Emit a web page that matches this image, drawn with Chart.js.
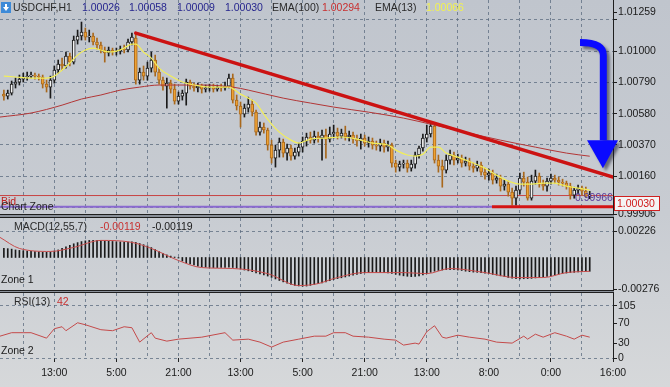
<!DOCTYPE html>
<html>
<head>
<meta charset="utf-8">
<script src="https://cdn.jsdelivr.net/npm/chart.js@4.4.1/dist/chart.umd.min.js"></script>
<style>
  html, body { margin: 0; padding: 0; background: #d0d3d7; }
  #wrap { position: relative; width: 670px; height: 387px; overflow: hidden;
          background: linear-gradient(to bottom, #c0c5cd 0%, #c8ccd2 55%, #d6d8da 100%); }
  #wrap canvas { position: absolute; left: 0; }
  .sep { position: absolute; left: 0; width: 614px; box-sizing: border-box;
         border-top: 1px solid #1e1e1e; border-bottom: 1px solid #1e1e1e; background: #8a9099; }
</style>
</head>
<body>
<div id="wrap">
  <canvas id="mainChart" width="670" height="217" style="top:0"></canvas>
  <canvas id="macdChart" width="670" height="75" style="top:218px"></canvas>
  <canvas id="rsiChart" width="670" height="94" style="top:293px"></canvas>
  <div class="sep" style="top:214px;height:4px"></div>
  <div class="sep" style="top:290px;height:3px"></div>
</div>
<script>
const FONT = '"Liberation Sans", Arial, sans-serif';
const GRID = 'rgba(90,106,126,0.75)';

// USDCHF H1 candles, bar index starts at firstBar
const firstBar = 3;
const opens = [
  1.00711, 1.00698, 1.00718, 1.00778, 1.00792, 1.00812, 1.00826, 1.00832, 1.00839, 1.00832,
  1.00826, 1.00778, 1.00758, 1.00805, 1.00873, 1.00913, 1.00900, 1.00967, 1.00926, 1.01074,
  1.01101, 1.01128, 1.01094, 1.01101, 1.01061, 1.01041, 1.01007, 1.00987, 1.01007, 1.00994,
  1.01000, 1.01014, 1.01007, 1.01061, 1.01088, 1.00805, 1.00859, 1.00832, 1.00886, 1.00940,
  1.00859, 1.00805, 1.00765, 1.00785, 1.00745, 1.00664, 1.00698, 1.00718, 1.00792, 1.00765,
  1.00752, 1.00765, 1.00745, 1.00752, 1.00758, 1.00745, 1.00758, 1.00752, 1.00765, 1.00819,
  1.00671, 1.00631, 1.00577, 1.00617, 1.00644, 1.00590, 1.00456, 1.00490, 1.00470, 1.00369,
  1.00281, 1.00335, 1.00389, 1.00315, 1.00349, 1.00295, 1.00322, 1.00355, 1.00396, 1.00423,
  1.00402, 1.00429, 1.00416, 1.00436, 1.00409, 1.00443, 1.00456, 1.00429, 1.00449, 1.00423,
  1.00436, 1.00409, 1.00396, 1.00416, 1.00382, 1.00396, 1.00369, 1.00362, 1.00382, 1.00355,
  1.00369, 1.00248, 1.00221, 1.00241, 1.00248, 1.00214, 1.00241, 1.00302, 1.00349, 1.00416,
  1.00443, 1.00496, 1.00268, 1.00228, 1.00201, 1.00268, 1.00302, 1.00268, 1.00281, 1.00248,
  1.00261, 1.00228, 1.00214, 1.00235, 1.00187, 1.00167, 1.00181, 1.00134, 1.00147, 1.00093,
  1.00107, 1.00053, 1.00012, 1.00066, 1.00147, 1.00120, 1.00012, 1.00127, 1.00160, 1.00107,
  1.00093, 1.00127, 1.00147, 1.00134, 1.00120, 1.00113, 1.00093, 1.00033, 1.00066, 1.00080,
  1.00060, 1.00026
];
const highs = [
  1.00738, 1.00738, 1.00799, 1.00819, 1.00839, 1.00852, 1.00859, 1.00859, 1.00852, 1.00846,
  1.00839, 1.00805, 1.00832, 1.00900, 1.00940, 1.00953, 1.00994, 1.00987, 1.01101, 1.01141,
  1.01195, 1.01155, 1.01141, 1.01121, 1.01088, 1.01061, 1.01027, 1.01027, 1.01020, 1.01020,
  1.01034, 1.01041, 1.01081, 1.01121, 1.01115, 1.00886, 1.00900, 1.00926, 1.00994, 1.00973,
  1.00886, 1.00826, 1.00819, 1.00805, 1.00778, 1.00725, 1.00738, 1.00812, 1.00805, 1.00785,
  1.00785, 1.00778, 1.00772, 1.00778, 1.00778, 1.00772, 1.00778, 1.00792, 1.00846, 1.00846,
  1.00705, 1.00658, 1.00644, 1.00691, 1.00671, 1.00604, 1.00523, 1.00517, 1.00483, 1.00402,
  1.00369, 1.00416, 1.00409, 1.00375, 1.00369, 1.00349, 1.00382, 1.00423, 1.00449, 1.00456,
  1.00463, 1.00456, 1.00470, 1.00476, 1.00490, 1.00503, 1.00483, 1.00476, 1.00496, 1.00463,
  1.00456, 1.00436, 1.00443, 1.00436, 1.00423, 1.00416, 1.00396, 1.00409, 1.00402, 1.00396,
  1.00382, 1.00268, 1.00261, 1.00268, 1.00268, 1.00268, 1.00322, 1.00362, 1.00443, 1.00503,
  1.00523, 1.00517, 1.00302, 1.00268, 1.00302, 1.00335, 1.00322, 1.00308, 1.00302, 1.00288,
  1.00281, 1.00248, 1.00261, 1.00254, 1.00214, 1.00208, 1.00201, 1.00174, 1.00167, 1.00134,
  1.00127, 1.00080, 1.00093, 1.00181, 1.00187, 1.00154, 1.00167, 1.00201, 1.00181, 1.00134,
  1.00147, 1.00174, 1.00167, 1.00154, 1.00140, 1.00127, 1.00113, 1.00086, 1.00100, 1.00093,
  1.00086, 1.00058
];
const lows = [
  1.00671, 1.00678, 1.00705, 1.00752, 1.00772, 1.00792, 1.00805, 1.00819, 1.00812, 1.00805,
  1.00752, 1.00725, 1.00684, 1.00785, 1.00852, 1.00873, 1.00886, 1.00900, 1.00913, 1.01047,
  1.01074, 1.01074, 1.01061, 1.01041, 1.01014, 1.00987, 1.00926, 1.00967, 1.00973, 1.00973,
  1.00980, 1.00987, 1.00994, 1.01041, 1.00778, 1.00778, 1.00805, 1.00805, 1.00859, 1.00832,
  1.00778, 1.00738, 1.00617, 1.00718, 1.00644, 1.00644, 1.00671, 1.00637, 1.00745, 1.00731,
  1.00725, 1.00718, 1.00725, 1.00731, 1.00725, 1.00731, 1.00731, 1.00738, 1.00752, 1.00651,
  1.00604, 1.00490, 1.00557, 1.00590, 1.00564, 1.00436, 1.00436, 1.00449, 1.00335, 1.00248,
  1.00221, 1.00288, 1.00288, 1.00268, 1.00268, 1.00275, 1.00295, 1.00322, 1.00362, 1.00382,
  1.00382, 1.00389, 1.00268, 1.00281, 1.00389, 1.00416, 1.00409, 1.00416, 1.00402, 1.00396,
  1.00382, 1.00362, 1.00342, 1.00362, 1.00355, 1.00342, 1.00335, 1.00328, 1.00322, 1.00328,
  1.00221, 1.00187, 1.00194, 1.00214, 1.00187, 1.00194, 1.00214, 1.00281, 1.00328, 1.00389,
  1.00423, 1.00248, 1.00187, 1.00086, 1.00181, 1.00241, 1.00235, 1.00248, 1.00221, 1.00228,
  1.00201, 1.00187, 1.00194, 1.00167, 1.00140, 1.00134, 1.00107, 1.00113, 1.00060, 1.00066,
  1.00026, 0.99965, 0.99965, 1.00039, 1.00093, 0.99999, 0.99999, 1.00107, 1.00086, 1.00066,
  1.00060, 1.00107, 1.00113, 1.00100, 1.00093, 1.00073, 1.00006, 1.00012, 1.00039, 1.00033,
  1.00019, 1.00009
];
const closes = [
  1.00698, 1.00718, 1.00778, 1.00792, 1.00812, 1.00826, 1.00832, 1.00839, 1.00832, 1.00826,
  1.00778, 1.00758, 1.00805, 1.00873, 1.00913, 1.00900, 1.00967, 1.00926, 1.01074, 1.01101,
  1.01128, 1.01094, 1.01101, 1.01061, 1.01041, 1.01007, 1.00987, 1.01007, 1.00994, 1.01000,
  1.01014, 1.01007, 1.01061, 1.01094, 1.00805, 1.00859, 1.00832, 1.00886, 1.00940, 1.00859,
  1.00805, 1.00765, 1.00785, 1.00745, 1.00664, 1.00698, 1.00718, 1.00792, 1.00765, 1.00752,
  1.00765, 1.00745, 1.00752, 1.00758, 1.00745, 1.00758, 1.00752, 1.00765, 1.00819, 1.00671,
  1.00631, 1.00577, 1.00617, 1.00644, 1.00590, 1.00456, 1.00490, 1.00470, 1.00369, 1.00281,
  1.00335, 1.00389, 1.00315, 1.00349, 1.00295, 1.00322, 1.00355, 1.00396, 1.00423, 1.00402,
  1.00429, 1.00416, 1.00436, 1.00409, 1.00443, 1.00456, 1.00429, 1.00449, 1.00423, 1.00436,
  1.00409, 1.00396, 1.00416, 1.00382, 1.00396, 1.00369, 1.00362, 1.00382, 1.00355, 1.00369,
  1.00248, 1.00221, 1.00241, 1.00248, 1.00214, 1.00241, 1.00302, 1.00349, 1.00416, 1.00443,
  1.00496, 1.00268, 1.00228, 1.00201, 1.00268, 1.00302, 1.00268, 1.00281, 1.00248, 1.00261,
  1.00228, 1.00214, 1.00235, 1.00187, 1.00167, 1.00181, 1.00134, 1.00147, 1.00093, 1.00107,
  1.00053, 1.00012, 1.00066, 1.00147, 1.00120, 1.00012, 1.00127, 1.00160, 1.00107, 1.00093,
  1.00127, 1.00147, 1.00134, 1.00120, 1.00113, 1.00093, 1.00033, 1.00066, 1.00080, 1.00060,
  1.00026, 1.00030
];

// EMA(13) and EMA(100), read at these bars
const ema13Bars = [3, 6, 10, 14, 16, 18, 20, 22, 24, 26, 28, 30, 32, 34, 36, 37, 39, 41, 43, 46,
  49, 52, 56, 61, 64, 66, 68, 70, 72, 74, 77, 79, 82, 86, 90, 94, 98, 102, 104, 107,
  109, 111, 113, 115, 117, 120, 124, 127, 130, 133, 136, 139, 142, 145, 148, 151, 154];
const ema13 = [1.00832, 1.00826, 1.00819, 1.00819, 1.00832, 1.00873, 1.00920, 1.00973, 1.01007, 1.01020,
  1.01007, 1.00994, 1.01000, 1.01020, 1.01047, 1.01047, 1.00994, 1.00953, 1.00886, 1.00832,
  1.00792, 1.00772, 1.00758, 1.00758, 1.00711, 1.00684, 1.00651, 1.00577, 1.00510, 1.00456,
  1.00402, 1.00382, 1.00409, 1.00416, 1.00423, 1.00409, 1.00382, 1.00369, 1.00335, 1.00302,
  1.00295, 1.00308, 1.00355, 1.00355, 1.00315, 1.00288, 1.00248, 1.00214, 1.00167, 1.00127,
  1.00107, 1.00107, 1.00113, 1.00113, 1.00093, 1.00080, 1.00066];
const ema100Bars = [2, 10, 18, 23, 28, 33, 38, 43, 54, 62, 66, 75, 82, 88, 97, 106, 114, 123, 131, 140, 148, 154];
const ema100 = [1.00557, 1.00584, 1.00637, 1.00678, 1.00705, 1.00738, 1.00758, 1.00772, 1.00772, 1.00758,
  1.00738, 1.00684, 1.00651, 1.00624, 1.00590, 1.00550, 1.00503, 1.00449, 1.00402, 1.00355, 1.00315, 1.00294];

// MACD(12,55,7): histogram per candle, signal read at these bars
const macdHist = [
  0.00078, 0.00076, 0.00072, 0.00065, 0.00061, 0.00058,
  0.00055, 0.00052, 0.00050, 0.00048, 0.00046, 0.00045, 0.00047,
  0.00055, 0.00065, 0.00078, 0.00092, 0.00105, 0.00118,
  0.00128, 0.00137, 0.00143, 0.00147, 0.00148, 0.00147, 0.00145,
  0.00142, 0.00140, 0.00138, 0.00136, 0.00134, 0.00133, 0.00133, 0.00134,
  0.00130, 0.00120, 0.00110, 0.00100, 0.00085, 0.00068, 0.00050,
  0.00035, 0.00022, 0.00012, 0.00004, -0.00005,
  -0.00030, -0.00045, -0.00055, -0.00065,
  -0.00075, -0.00080, -0.00083, -0.00085, -0.00087, -0.00087, -0.00086, -0.00085, -0.00084, -0.00086,
  -0.00092, -0.00100, -0.00108, -0.00115, -0.00122, -0.00132, -0.00142, -0.00150,
  -0.00160, -0.00172, -0.00185, -0.00198, -0.00210, -0.00222, -0.00232,
  -0.00240, -0.00245, -0.00248, -0.00246,
  -0.00240, -0.00232, -0.00225, -0.00218, -0.00210, -0.00200, -0.00190,
  -0.00182, -0.00175, -0.00168, -0.00160, -0.00152, -0.00145, -0.00138, -0.00132,
  -0.00130, -0.00128, -0.00128, -0.00129, -0.00131, -0.00133, -0.00138, -0.00145,
  -0.00152, -0.00158, -0.00162, -0.00165, -0.00163, -0.00158,
  -0.00150, -0.00140, -0.00128, -0.00118,
  -0.00112, -0.00108, -0.00105, -0.00104, -0.00105, -0.00108, -0.00112,
  -0.00118, -0.00122, -0.00126, -0.00128, -0.00131, -0.00135, -0.00140,
  -0.00146, -0.00152, -0.00158, -0.00165, -0.00172, -0.00178, -0.00182,
  -0.00184, -0.00183, -0.00182, -0.00180, -0.00176, -0.00172,
  -0.00168, -0.00164, -0.00158, -0.00150, -0.00143, -0.00138, -0.00134,
  -0.00130, -0.00128, -0.00125, -0.00122, -0.00120, -0.00119
];
const signalBars = [2, 7, 15, 21, 28, 36, 41, 48, 54, 62, 71, 79, 84, 88, 96, 106, 112, 118, 127, 135, 142, 148, 154];
const signal = [0.00173, 0.00078, 0.00052, 0.00087, 0.00147, 0.00130, 0.00078, -0.00026, -0.00087, -0.00095,
  -0.00139, -0.00242, -0.00225, -0.00182, -0.00130, -0.00130, -0.00139, -0.00095, -0.00130, -0.00173,
  -0.00173, -0.00130, -0.00119];

// RSI(13)
const rsiBars = [2, 5, 8, 10, 14, 16, 18, 19, 22, 24, 28, 31, 34, 36, 38, 41, 42, 45, 48, 54,
  60, 62, 66, 69, 72, 75, 79, 83, 86, 88, 91, 93, 97, 101, 104, 106, 109, 110, 112, 113,
  114, 116, 117, 120, 123, 127, 130, 134, 137, 138, 140, 142, 145, 148, 150, 152, 154];
const rsi = [44, 51, 51, 51, 40, 59, 63, 55, 71, 67, 57, 55, 63, 61, 32, 51, 40, 34, 38, 42,
  51, 36, 38, 32, 22, 32, 38, 44, 44, 51, 51, 44, 42, 38, 36, 26, 30, 28, 53, 59,
  65, 42, 40, 46, 42, 38, 32, 30, 44, 38, 48, 42, 51, 44, 38, 46, 42];

// time axis
const gridBars = [8, 16, 24, 32, 40, 48, 56, 64, 72, 80, 88, 96, 104, 112, 120, 128, 136, 144, 152];
const timeTicks = [16, 32, 48, 64, 80, 96, 112, 128, 144, 160];
const timeLabels = ['13:00', '5:00', '21:00', '13:00', '5:00', '21:00', '13:00', '8:00', '0:00', '16:00'];

// price axis
const priceLabels = [0.99906, 1.00160, 1.00370, 1.00580, 1.00790, 1.01000, 1.01259];
const priceGrid = [0.99950, 1.00160, 1.00370, 1.00580, 1.00790, 1.01000, 1.01210];
const macdLabels = [-0.00276, 0.00226];
const macdGrid = [0.00226];
const rsiLabels = [0, 30, 70, 105];
const rsiGrid = [0, 105];

// drawn objects
const bidPrice = 1.00030;
const zonePrice = 0.99955;
const zoneEnd = 128.8;
const trendLine = [[37, 1.01121], [160, 1.00154]];
const arrowShaft = [[151.5, 1.01057], [157.5, 1.01057], [157.5, 1.00973], [157.5, 1.00402]];
const arrowHead = [[153.3, 1.00402], [161.3, 1.00402], [157.4, 1.00214]];
const zoneText = { bar: 150.2, price: 1.00016, text: '0.99966' };

const pts = (bars, vals) => bars.map((b, k) => ({ x: b, y: vals[k] }));
const candleBars = opens.map((_, k) => firstBar + k);
const up = closes.map((c, k) => c >= opens[k]);
const last = opens.length - 1;

function xScale(showLabels) {
  return {
    type: 'linear', min: 2, max: 160, offset: false,
    afterBuildTicks: s => { s.ticks = gridBars.concat([160]).map(v => ({ value: v })); },
    afterFit: s => { s.height = showLabels ? 29 : 0; s.paddingLeft = 0; s.paddingRight = 0; },
    grid: {
      offset: false,
      color: c => (c.tick && c.tick.value < 160) ? GRID : 'transparent',
      drawTicks: showLabels, tickLength: 4, tickBorderDash: [],
      tickColor: c => (c.tick && timeTicks.includes(c.tick.value)) ? '#222' : 'transparent'
    },
    border: { display: false, dash: [3, 3] },
    ticks: {
      display: showLabels, autoSkip: false, maxRotation: 0, padding: 5, color: '#1a1a1a',
      font: { family: FONT, size: 10.5 },
      callback: v => { const k = timeTicks.indexOf(v); return k >= 0 ? timeLabels[k] : ''; }
    }
  };
}

function yScale(min, max, labelVals, gridVals, fmt) {
  return {
    position: 'right', min, max, beginAtZero: false,
    afterBuildTicks: s => {
      s.ticks = [...new Set(labelVals.concat(gridVals))].sort((a, b) => a - b).map(v => ({ value: v }));
    },
    afterFit: s => { s.width = 57; s.paddingTop = 0; s.paddingBottom = 0; },
    grid: {
      color: c => (c.tick && gridVals.includes(c.tick.value)) ? GRID : 'transparent',
      drawTicks: true, tickLength: 4, tickBorderDash: [], tickColor: '#1e1e1e'
    },
    border: { display: true, color: '#1e1e1e', width: 1, dash: [3, 3] },
    ticks: {
      padding: 1, color: '#1a1a1a', autoSkip: false, font: { family: FONT, size: 10.5 },
      callback: v => labelVals.includes(v) ? fmt(v) : ''
    }
  };
}

function text(ctx, str, x, y, color, size) {
  ctx.font = (size || 10.5) + 'px ' + FONT;
  ctx.fillStyle = color;
  ctx.textBaseline = 'middle';
  ctx.textAlign = 'left';
  ctx.fillText(str, x, y);
}

const baseOptions = {
  responsive: false, animation: false, devicePixelRatio: 1, events: [],
  plugins: { legend: { display: false }, tooltip: { enabled: false } }
};

const mainOverlay = {
  id: 'mainOverlay',
  afterDraw(chart) {
    const { ctx, scales: { x, y }, chartArea } = chart;
    const P = p => [x.getPixelForValue(p[0]), y.getPixelForValue(p[1])];

    // blue arrow
    ctx.save();
    ctx.shadowColor = 'rgba(25,25,45,0.55)';
    ctx.shadowOffsetX = 3; ctx.shadowOffsetY = 3; ctx.shadowBlur = 3;
    ctx.strokeStyle = '#0a0aff'; ctx.lineWidth = 7; ctx.lineCap = 'butt';
    const s = arrowShaft.map(P);
    ctx.beginPath();
    ctx.moveTo(s[0][0], s[0][1]);
    ctx.quadraticCurveTo(s[1][0], s[1][1], s[2][0], s[2][1]);
    ctx.lineTo(s[3][0], s[3][1]);
    ctx.stroke();
    const h = arrowHead.map(P);
    ctx.fillStyle = '#0a0aff';
    ctx.beginPath();
    ctx.moveTo(h[0][0], h[0][1]); ctx.lineTo(h[1][0], h[1][1]); ctx.lineTo(h[2][0], h[2][1]);
    ctx.closePath(); ctx.fill();
    ctx.restore();

    // bid price box on the axis
    const by = Math.round(y.getPixelForValue(bidPrice));
    ctx.fillStyle = '#f4f4f4';
    ctx.fillRect(chartArea.right + 1, by, 46, 15);
    ctx.strokeStyle = '#d02020'; ctx.lineWidth = 1;
    ctx.strokeRect(chartArea.right + 1.5, by + 0.5, 45, 14);
    text(ctx, closes[last].toFixed(5), chartArea.right + 4, by + 8, '#d01818');

    // zone texts
    text(ctx, zoneText.text, x.getPixelForValue(zoneText.bar), y.getPixelForValue(zoneText.price), '#5a3a9a');
    text(ctx, 'Bid', 1, by + 6, '#c02020');
    text(ctx, 'Chart Zone', 1, y.getPixelForValue(zonePrice) + 0.5, '#262626');

    // header
    ctx.fillStyle = '#3d8ad8';
    ctx.fillRect(1, 2, 10, 11);
    ctx.fillStyle = '#ffffff';
    ctx.beginPath(); ctx.moveTo(3, 7); ctx.lineTo(9, 7); ctx.lineTo(6, 11); ctx.closePath(); ctx.fill();
    ctx.fillRect(5, 4, 2, 4);
    text(ctx, 'USDCHF,H1', 13, 8, '#2a2a2a');
    text(ctx, opens[last].toFixed(5), 82, 8, '#26268e');
    text(ctx, highs[last].toFixed(5), 129, 8, '#26268e');
    text(ctx, lows[last].toFixed(5), 177, 8, '#26268e');
    text(ctx, closes[last].toFixed(5), 225, 8, '#26268e');
    text(ctx, 'EMA(100)', 272, 8, '#2a2a2a');
    text(ctx, ema100[ema100.length - 1].toFixed(5), 322, 8, '#c83030');
    text(ctx, 'EMA(13)', 375, 8, '#2a2a2a');
    text(ctx, ema13[ema13.length - 1].toFixed(5), 426, 8, '#f2f250');
  }
};

const lineDs = (data, color, width, order, extra) => Object.assign({
  type: 'line', data, borderColor: color, borderWidth: width, pointRadius: 0, fill: false, order
}, extra || {});

new Chart(document.getElementById('mainChart'), {
  type: 'bar',
  data: {
    datasets: [
      lineDs(trendLine.map(p => ({ x: p[0], y: p[1] })), '#cc1212', 3.5, 0, { borderCapStyle: 'round' }),
      lineDs([{ x: zoneEnd, y: zonePrice }, { x: 160, y: zonePrice }], '#d41414', 3, 1),
      lineDs([{ x: 2, y: zonePrice }, { x: zoneEnd, y: zonePrice }], '#8a6ad0', 2, 2),
      lineDs(pts(ema13Bars, ema13), '#f2ee5a', 1.2, 3, { cubicInterpolationMode: 'monotone' }),
      lineDs(pts(ema100Bars, ema100), '#b23636', 1, 4, { cubicInterpolationMode: 'monotone' }),
      {
        type: 'bar', order: 5, grouped: false, barThickness: 3, minBarLength: 1, borderSkipped: false,
        data: candleBars.map((b, k) => ({ x: b, y: [opens[k], closes[k]] })),
        backgroundColor: up.map(u => u ? '#f4f4f4' : '#eea234'),
        borderColor: up.map(u => u ? '#1a1a1a' : '#a9681c'),
        borderWidth: 1
      },
      {
        type: 'bar', order: 6, grouped: false, barThickness: 1, minBarLength: 1,
        data: candleBars.map((b, k) => ({ x: b, y: [lows[k], highs[k]] })),
        backgroundColor: up.map(u => u ? '#1a1a1a' : '#a9681c')
      },
      lineDs([{ x: 2, y: bidPrice }, { x: 160, y: bidPrice }], '#c84444', 1, 7)
    ]
  },
  options: Object.assign({}, baseOptions, {
    layout: { padding: { left: 0, right: 0, top: 0, bottom: 3 } },
    scales: {
      x: xScale(false),
      y: yScale(0.99906, 1.01343, priceLabels, priceGrid, v => v.toFixed(5))
    }
  }),
  plugins: [mainOverlay]
});

new Chart(document.getElementById('macdChart'), {
  type: 'bar',
  data: {
    datasets: [
      lineDs(pts(signalBars, signal), '#c84c4c', 1, 0, { cubicInterpolationMode: 'monotone' }),
      {
        type: 'bar', order: 1, grouped: false, barThickness: 1,
        data: candleBars.map((b, k) => ({ x: b, y: macdHist[k] })),
        backgroundColor: '#1a1a1a'
      }
    ]
  },
  options: Object.assign({}, baseOptions, {
    layout: { padding: { left: 0, right: 0, top: 0, bottom: 3 } },
    scales: {
      x: xScale(false),
      y: yScale(-0.0028, 0.0034, macdLabels, macdGrid, v => v.toFixed(5))
    }
  }),
  plugins: [{
    id: 'macdText',
    afterDraw(chart) {
      const ctx = chart.ctx;
      text(ctx, 'MACD(12,55,7)', 14, 9, '#2a2a2a');
      text(ctx, macdHist[last].toFixed(5), 100, 9, '#c83030');
      text(ctx, signal[signal.length - 1].toFixed(5), 152, 9, '#1a1a1a');
      text(ctx, 'Zone 1', 1, 62, '#1a1a1a');
    }
  }]
});

new Chart(document.getElementById('rsiChart'), {
  type: 'line',
  data: {
    datasets: [lineDs(pts(rsiBars, rsi), '#c44a4a', 1, 0)]
  },
  options: Object.assign({}, baseOptions, {
    layout: { padding: 0 },
    scales: {
      x: xScale(true),
      y: yScale(0, 131, rsiLabels, rsiGrid, v => String(v))
    }
  }),
  plugins: [{
    id: 'rsiText',
    afterDraw(chart) {
      const ctx = chart.ctx;
      text(ctx, 'RSI(13)', 14, 9, '#2a2a2a');
      text(ctx, String(rsi[rsi.length - 1]), 57, 9, '#c83030');
      text(ctx, 'Zone 2', 1, 58, '#1a1a1a');
    }
  }]
});
</script>
</body>
</html>
